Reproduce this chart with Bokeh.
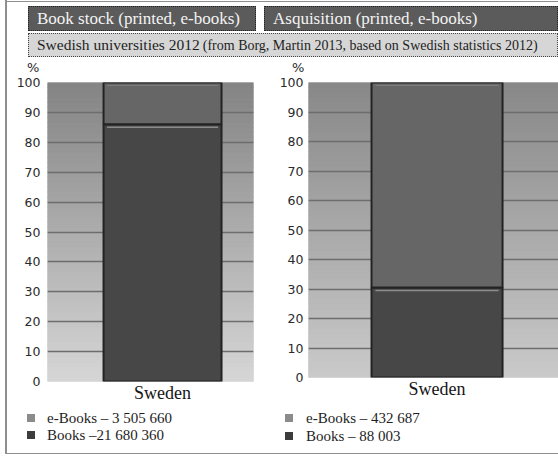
import numpy as np
from bokeh.plotting import figure
from bokeh.models import Range1d, FixedTicker, Div
from bokeh.layouts import column, row
from bokeh.embed import file_html
from bokeh.resources import INLINE

# ---------------- data ----------------
categories = ["Sweden"]
y_ticks = [0, 10, 20, 30, 40, 50, 60, 70, 80, 90, 100]

stock_books_pct = [86]
stock_ebooks_pct = [14]
acq_books_pct = [30.5]
acq_ebooks_pct = [69.5]

stock_legend = ["e-Books \u2013 3 505 660", "Books \u201321 680 360"]
acq_legend = ["e-Books \u2013 432 687", "Books \u2013 88 003"]
legend_colors = ["#8b8b8b", "#3c3c3c"]

panel_titles = ["Book stock (printed, e-books)", "Asquisition (printed, e-books)"]
subtitle_main = "Swedish universities 2012"
subtitle_note = "(from Borg, Martin 2013, based on Swedish statistics 2012)"
unit_label = "%"

SERIF = "Liberation Serif"
SANS = "DejaVu Sans"


def hex_mix(c0, c1, t):
    a = np.array([int(c0[i:i + 2], 16) for i in (1, 3, 5)], dtype=float)
    b = np.array([int(c1[i:i + 2], 16) for i in (1, 3, 5)], dtype=float)
    m = np.round(a + (b - a) * t).astype(int)
    return "#%02x%02x%02x" % tuple(m)


def make_chart(books, ebooks, x_start, x_end, frame_w, frame_h,
               mb_left, mb_right, mb_top, mb_bottom, standoff,
               bg_bottom, bg_top):
    xr = Range1d(x_start, x_end)
    p = figure(x_range=xr, y_range=Range1d(0, 100), frame_width=frame_w,
               frame_height=frame_h, min_border_left=mb_left,
               min_border_right=mb_right, min_border_top=mb_top,
               min_border_bottom=mb_bottom, output_backend="svg",
               toolbar_location=None, tools="", title=None)
    p.border_fill_alpha = 0
    p.outline_line_color = None
    p.background_fill_color = bg_bottom

    # gradient plot-area background
    n = 60
    ys = np.linspace(0, 100, n + 1)
    cols = [hex_mix(bg_bottom, bg_top, (i + 0.5) / n) for i in range(n)]
    p.quad(left=x_start, right=x_end, bottom=ys[:-1], top=ys[1:],
           fill_color=cols, line_color=cols, line_width=1, level="image")

    xs = list(range(len(categories)))
    tops = [b + e for b, e in zip(books, ebooks)]
    p.vbar(x=xs, width=1, bottom=0, top=books, fill_color="#474747",
           line_color="#232323", line_width=2)
    p.vbar(x=xs, width=1, bottom=books, top=tops, fill_color="#666666",
           line_color="#232323", line_width=2)
    # bevel highlights
    p.segment(x0=[x - 0.47 for x in xs], x1=[x + 0.47 for x in xs],
              y0=[b - 1.0 for b in books], y1=[b - 1.0 for b in books],
              line_color="#8c8c8c", line_width=1.5)
    p.segment(x0=[x - 0.47 for x in xs], x1=[x + 0.47 for x in xs],
              y0=[t - 1.0 for t in tops], y1=[t - 1.0 for t in tops],
              line_color="#7c7c7c", line_width=1.2)

    # axes
    p.yaxis.ticker = FixedTicker(ticks=y_ticks)
    p.ygrid.ticker = FixedTicker(ticks=y_ticks)
    p.ygrid.grid_line_color = "#6d6d6d"
    p.ygrid.grid_line_width = 1.5
    p.xgrid.grid_line_color = None
    for ax in (p.xaxis, p.yaxis):
        ax.axis_line_color = None
        ax.major_tick_line_color = None
        ax.minor_tick_line_color = None
        ax.major_tick_out = 0
        ax.major_tick_in = 0
        ax.minor_tick_out = 0
        ax.minor_tick_in = 0
    p.yaxis.major_label_standoff = standoff
    p.yaxis.major_label_text_font = SANS
    p.yaxis.major_label_text_font_size = "12.5px"
    p.yaxis.major_label_text_color = "#2a2a2a"

    p.xaxis.ticker = FixedTicker(ticks=xs)
    p.xaxis.major_label_overrides = {i: c for i, c in enumerate(categories)}
    p.xaxis.major_label_standoff = 1
    p.xaxis.major_label_text_font = SERIF
    p.xaxis.major_label_text_font_size = "18px"
    p.xaxis.major_label_text_color = "#151515"
    return p


f1 = make_chart(stock_books_pct, stock_ebooks_pct,
                -0.975, 0.771, 206, 299, 40, 9, 8, 24, 7, "#d6d6d6", "#848484")
f2 = make_chart(acq_books_pct, acq_ebooks_pct,
                -0.981, 0.927, 250, 295, 46, 0, 7, 29, 5, "#cacaca", "#888888")

# ---------------- header (titles, subtitle, unit labels) ----------------
title_box = ("position:absolute;top:6px;height:25px;box-sizing:border-box;"
             "background:#5b5b5b;color:#f4f4f4;border:1px dotted #222;"
             "font-size:17px;line-height:23px;padding-left:8px;"
             "white-space:nowrap;overflow:hidden;")
unit_css = (f"position:absolute;top:61px;font-family:'{SANS}';font-size:13px;"
            "line-height:13px;color:#2a2a2a;")
header_html = (
    f'<div style="position:relative;width:551px;height:74px;'
    f'font-family:\'{SERIF}\';">'
    f'<div style="position:absolute;left:0;top:1px;width:551px;height:0;'
    f'border-top:1px solid #8e8e8e;"></div>'
    f'<div style="{title_box}left:21px;width:228px;">{panel_titles[0]}</div>'
    f'<div style="{title_box}left:257px;width:294px;">{panel_titles[1]}</div>'
    f'<div style="position:absolute;top:33px;left:21px;width:530px;height:24px;'
    f'box-sizing:border-box;background:#d6d6d6;color:#1e1e1e;'
    f'border:1px dotted #444;padding-left:8px;white-space:nowrap;'
    f'overflow:hidden;line-height:22px;">'
    f'<span style="font-size:15.5px;">{subtitle_main}</span> '
    f'<span style="font-size:14px;">{subtitle_note}</span></div>'
    f'<span style="{unit_css}left:20px;">{unit_label}</span>'
    f'<span style="{unit_css}left:285px;">{unit_label}</span>'
    f'</div>')
header = Div(text=header_html, width=551, height=74, margin=0)


# ---------------- legends ----------------
def legend_html(labels, width, sq_left, text_left, centers):
    parts = [f'<div style="position:relative;width:{width}px;height:48px;'
             f'font-family:\'{SERIF}\';font-size:15px;color:#1e1e1e;">']
    for lab, col, cy in zip(labels, legend_colors, centers):
        parts.append(f'<span style="position:absolute;left:{sq_left}px;'
                     f'top:{cy - 4}px;width:8px;height:8px;'
                     f'background:{col};"></span>')
        parts.append(f'<span style="position:absolute;left:{text_left}px;'
                     f'top:{cy - 9}px;line-height:18px;white-space:nowrap;">'
                     f'{lab}</span>')
    parts.append('</div>')
    return "".join(parts)


leg1 = Div(text=legend_html(stock_legend, 255, 20, 40, [13, 30]),
           width=255, height=48, margin=0)
leg2 = Div(text=legend_html(acq_legend, 296, 23, 44, [13, 31]),
           width=296, height=48, margin=0)

layout = column(header, row(f1, f2), row(leg1, leg2), margin=(0, 0, 0, 5),
                styles={"border-left": "2px solid #8e8e8e",
                        "border-bottom": "1px solid #8e8e8e"})

open("out.html", "w").write(file_html(layout, INLINE))
